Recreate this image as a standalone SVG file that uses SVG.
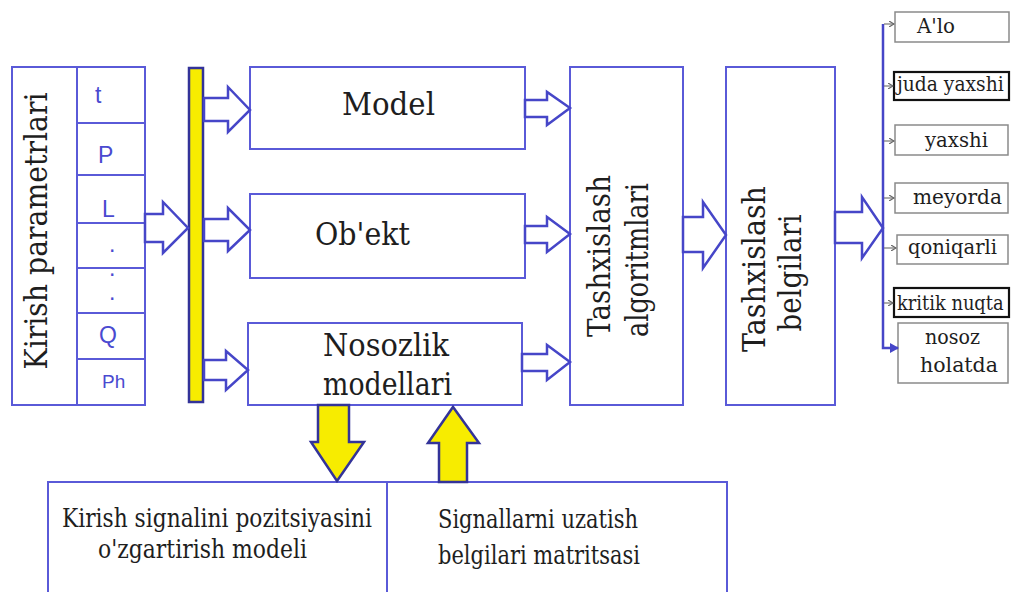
<svg xmlns="http://www.w3.org/2000/svg" width="1011" height="592" viewBox="0 0 1011 592">
<defs>
<style>
.bx{fill:#fff;stroke:#5a5ad8;stroke-width:2}
.ln{stroke:#5a5ad8;stroke-width:2;fill:none}
.ar{fill:#fff;stroke:#4646c8;stroke-width:2.5;stroke-linejoin:miter}
.ya{fill:#f7ec00;stroke:#333399;stroke-width:2.5}
.t{fill:#1e1e1e;font-family:"DejaVu Serif","Liberation Serif",serif}
.big{font-size:31px}
.mid{font-size:26px}
.sm{font-size:21px}
.p{font-family:"Liberation Sans",Arial,sans-serif;font-size:23px;fill:#4a4ad0}
.gb{fill:#fff;stroke:#8a8a8a;stroke-width:1.5}
.kb{fill:#fff;stroke:#111;stroke-width:2.2}
.tk{stroke:#777;stroke-width:1.2;fill:none}
</style>
<marker id="gh" markerWidth="6" markerHeight="6" refX="5" refY="3" orient="auto" markerUnits="userSpaceOnUse">
<path d="M0,0 L5,3 L0,6" fill="none" stroke="#666" stroke-width="1.2"/>
</marker>
<marker id="bh" markerWidth="10" markerHeight="10" refX="8" refY="5" orient="auto" markerUnits="userSpaceOnUse">
<path d="M0,0 L9,5 L0,10 Z" fill="#4646c8"/>
</marker>
</defs>
<rect width="1011" height="592" fill="#fff"/>

<g id="kirish">
<rect class="bx" x="12" y="67" width="133" height="338"/>
<line class="ln" x1="77" y1="67" x2="77" y2="405"/>
<line class="ln" x1="77" y1="123" x2="145" y2="123"/>
<line class="ln" x1="77" y1="175" x2="145" y2="175"/>
<line class="ln" x1="77" y1="223" x2="145" y2="223"/>
<line class="ln" x1="77" y1="268" x2="145" y2="268"/>
<line class="ln" x1="77" y1="313" x2="145" y2="313"/>
<line class="ln" x1="77" y1="359" x2="145" y2="359"/>
<text class="t big" transform="translate(47,231) rotate(-90)" text-anchor="middle" textLength="277" lengthAdjust="spacingAndGlyphs">Kirish parametrlari</text>
<text class="p" x="95" y="103">t</text>
<text class="p" x="98" y="163">P</text>
<text class="p" x="102" y="217">L</text>
<text class="p" x="109" y="252">.</text>
<text class="p" x="109" y="276">.</text>
<text class="p" x="109" y="300">.</text>
<text class="p" x="99" y="343">Q</text>
<text class="p" x="102" y="388" style="font-size:19px">Ph</text>
</g>

<g id="bar">
<rect x="189" y="68" width="14" height="334" fill="#f7ec00" stroke="#333399" stroke-width="2.5"/>
</g>

<g id="model">
<rect class="bx" x="250" y="67" width="275" height="82"/>
<text class="t big" x="342" y="115" textLength="93" lengthAdjust="spacingAndGlyphs">Model</text>
</g>
<g id="obekt">
<rect class="bx" x="250" y="194" width="275" height="84"/>
<text class="t big" x="315" y="245" textLength="95" lengthAdjust="spacingAndGlyphs">Ob'ekt</text>
</g>
<g id="nosozlik">
<rect class="bx" x="248" y="323" width="274" height="82"/>
<text class="t big" x="323" y="356" textLength="126" lengthAdjust="spacingAndGlyphs">Nosozlik</text>
<text class="t big" x="323" y="395" textLength="129" lengthAdjust="spacingAndGlyphs">modellari</text>
</g>

<g id="algoritm">
<rect class="bx" x="570" y="67" width="113" height="338"/>
<text class="t big" transform="translate(610,256) rotate(-90)" text-anchor="middle" textLength="162" lengthAdjust="spacingAndGlyphs">Tashxislash</text>
<text class="t big" transform="translate(648,260) rotate(-90)" text-anchor="middle" textLength="154" lengthAdjust="spacingAndGlyphs">algoritmlari</text>
</g>
<g id="belgilar">
<rect class="bx" x="726" y="67" width="109" height="338"/>
<text class="t big" transform="translate(765,269) rotate(-90)" text-anchor="middle" textLength="166" lengthAdjust="spacingAndGlyphs">Tashxislash</text>
<text class="t big" transform="translate(801,273) rotate(-90)" text-anchor="middle" textLength="117" lengthAdjust="spacingAndGlyphs">belgilari</text>
</g>

<g id="kirish-signal">
<rect class="bx" x="48" y="482" width="339" height="130"/>
<text class="t mid" x="62" y="527" textLength="310" lengthAdjust="spacingAndGlyphs">Kirish signalini pozitsiyasini</text>
<text class="t mid" x="98" y="558" textLength="209" lengthAdjust="spacingAndGlyphs">o'zgartirish modeli</text>
</g>
<g id="signallar">
<rect class="bx" x="387" y="482" width="340" height="130"/>
<text class="t mid" x="438" y="528" textLength="200" lengthAdjust="spacingAndGlyphs">Signallarni uzatish</text>
<text class="t mid" x="438" y="564" textLength="202" lengthAdjust="spacingAndGlyphs">belgilari matritsasi</text>
</g>

<g id="alo"><rect class="gb" x="895" y="12" width="114" height="30"/><text class="t sm" x="917" y="33" textLength="38" lengthAdjust="spacingAndGlyphs">A'lo</text></g>
<g id="juda"><rect class="kb" x="894" y="72" width="115" height="28"/><text class="t sm" transform="translate(897,91) scale(0.86,1)" textLength="124" lengthAdjust="spacingAndGlyphs">juda yaxshi</text></g>
<g id="yaxshi"><rect class="gb" x="895" y="125" width="113" height="30"/><text class="t sm" x="925" y="147" textLength="63" lengthAdjust="spacingAndGlyphs">yaxshi</text></g>
<g id="meyorda"><rect class="gb" x="895" y="183" width="113" height="30"/><text class="t sm" x="913" y="204" textLength="89" lengthAdjust="spacingAndGlyphs">meyorda</text></g>
<g id="qoniqarli"><rect class="gb" x="897" y="235" width="111" height="29"/><text class="t sm" x="908" y="254" textLength="89" lengthAdjust="spacingAndGlyphs">qoniqarli</text></g>
<g id="kritik"><rect class="kb" x="894" y="288" width="115" height="29"/><text class="t sm" transform="translate(897,310) scale(0.82,1)" textLength="130" lengthAdjust="spacingAndGlyphs">kritik nuqta</text></g>
<g id="nosoz"><rect class="gb" x="898" y="323" width="110" height="60"/><text class="t sm" x="925" y="344" textLength="55" lengthAdjust="spacingAndGlyphs">nosoz</text><text class="t sm" x="920" y="372" textLength="78" lengthAdjust="spacingAndGlyphs">holatda</text></g>

<g id="connectors">
<path class="ar" d="M145,214 H163 V202 L188,228 L163,253 V242 H145 Z"/>
<path class="ar" d="M204,98 H228 V87 L250,110 L228,132 V121 H204 Z"/>
<path class="ar" d="M204,219 H228 V208 L250,230 L228,251 V241 H204 Z"/>
<path class="ar" d="M204,360 H226 V351 L248,370 L226,390 V380 H204 Z"/>
<path class="ar" d="M525,100 H547 V92 L570,108 L547,125 V117 H525 Z"/>
<path class="ar" d="M525,226 H547 V217 L570,234 L547,252 V243 H525 Z"/>
<path class="ar" d="M522,354 H547 V345 L570,362 L547,380 V371 H522 Z"/>
<path class="ar" d="M683,217 H703 V202 L726,235 L703,268 V252 H683 Z"/>
<path class="ar" d="M835,212 H862 V197 L883,228 L862,258 V243 H835 Z"/>
<path class="ya" d="M318,405 H349 V442 H364 L337,481 L311,442 H318 Z"/>
<path class="ya" d="M439,482 V443 H428 L453,407 L479,443 H467 V482 Z"/>
<path d="M883,24 V348 H898" fill="none" stroke="#4646c8" stroke-width="2.5" marker-end="url(#bh)"/>
<line class="tk" x1="884" y1="24" x2="894" y2="24" marker-end="url(#gh)"/>
<line class="tk" x1="884" y1="86" x2="893" y2="86" marker-end="url(#gh)"/>
<line class="tk" x1="884" y1="141" x2="894" y2="141" marker-end="url(#gh)"/>
<line class="tk" x1="884" y1="198" x2="894" y2="198" marker-end="url(#gh)"/>
<line class="tk" x1="884" y1="248" x2="896" y2="248" marker-end="url(#gh)"/>
<line class="tk" x1="884" y1="303" x2="893" y2="303" marker-end="url(#gh)"/>
</g>
</svg>
